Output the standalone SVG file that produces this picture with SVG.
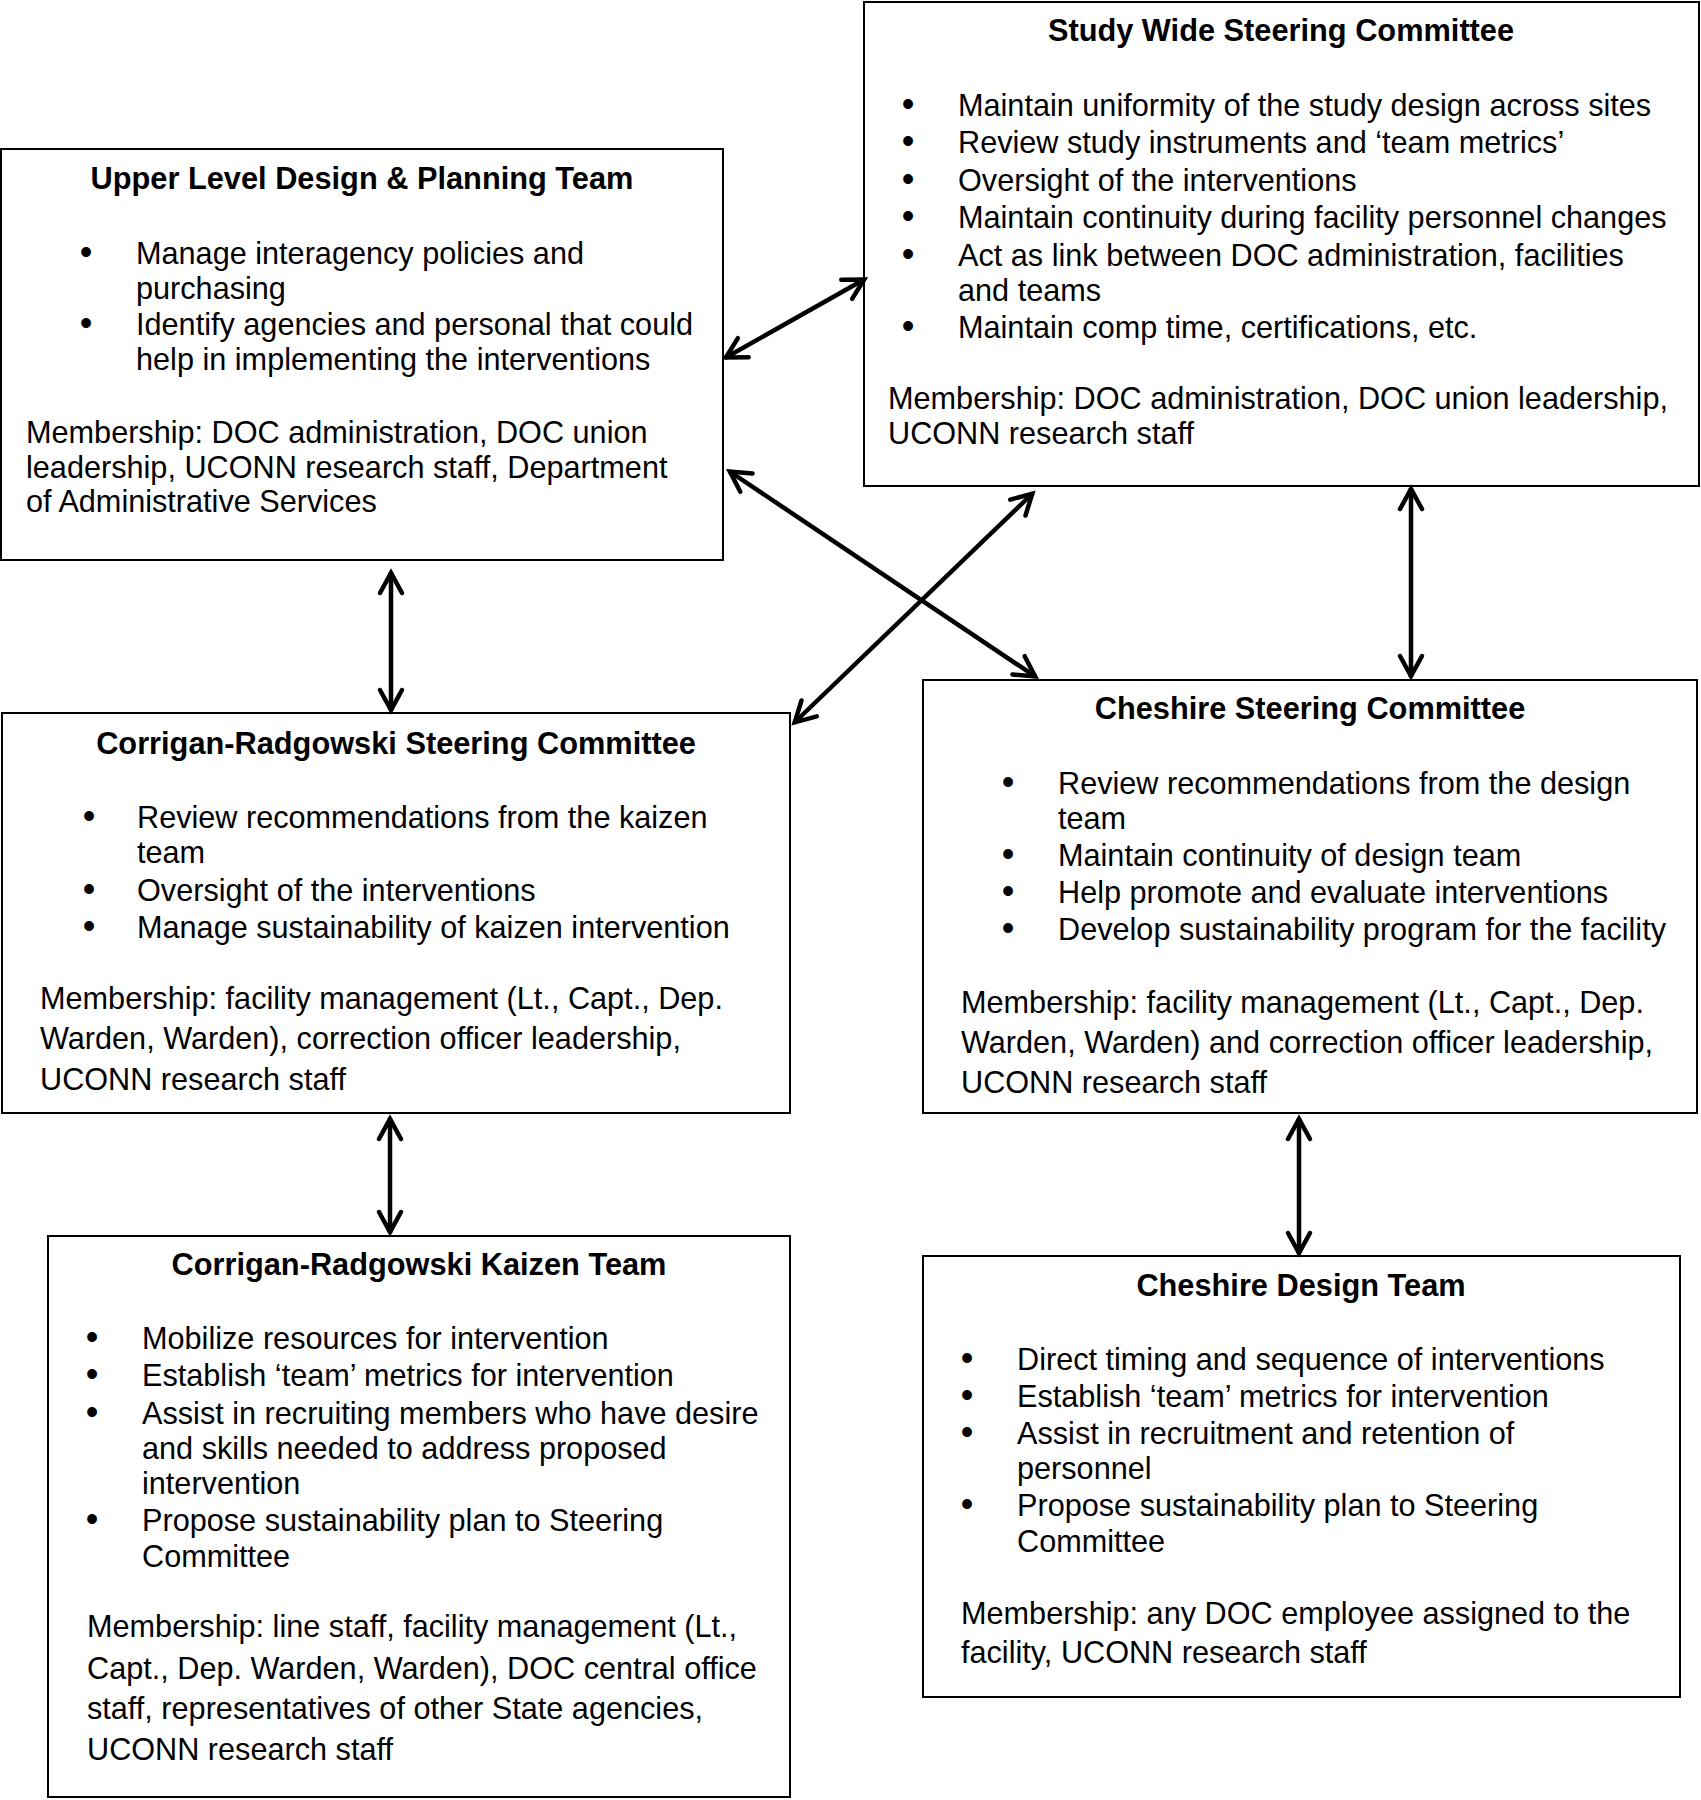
<svg xmlns="http://www.w3.org/2000/svg" width="1701" height="1800" viewBox="0 0 1701 1800">
<style>
.box{fill:#fff;stroke:#000;stroke-width:2}
text{font-family:"Liberation Sans",Arial,sans-serif;font-size:30.65px;fill:#000}
.t{font-weight:bold;text-anchor:middle;font-size:30.75px}
.b{text-anchor:middle;font-size:36px}
.c{fill:none;stroke:#000;stroke-width:4.5}
</style>
<defs>
<marker id="ah" markerUnits="userSpaceOnUse" viewBox="-30 -20 40 40" markerWidth="40" markerHeight="40" refX="0" refY="0" orient="auto-start-reverse" overflow="visible">
<path d="M-21,-11 L-1,0 L-21,11" fill="none" stroke="#000" stroke-width="4.5" stroke-linecap="round" stroke-linejoin="miter"/>
</marker>
</defs>
<rect width="1701" height="1800" fill="#fff"/>

<g id="upper-level">
<rect class="box" x="1" y="149" width="722" height="411"/>
<text class="t" x="362" y="189">Upper Level Design &amp; Planning Team</text>
<text class="b" x="86" y="264">•</text><text x="136" y="264">Manage interagency policies and</text>
<text x="136" y="299">purchasing</text>
<text class="b" x="86" y="335">•</text><text x="136" y="335">Identify agencies and personal that could</text>
<text x="136" y="370">help in implementing the interventions</text>
<text x="26" y="443">Membership: DOC administration, DOC union</text>
<text x="26" y="478">leadership, UCONN research staff, Department</text>
<text x="26" y="512">of Administrative Services</text>
</g>

<g id="study-wide">
<rect class="box" x="864" y="2" width="835" height="484"/>
<text class="t" x="1281" y="41">Study Wide Steering Committee</text>
<text class="b" x="908" y="116">•</text><text x="958" y="116">Maintain uniformity of the study design across sites</text>
<text class="b" x="908" y="153">•</text><text x="958" y="153">Review study instruments and ‘team metrics’</text>
<text class="b" x="908" y="191">•</text><text x="958" y="191">Oversight of the interventions</text>
<text class="b" x="908" y="228">•</text><text x="958" y="228">Maintain continuity during facility personnel changes</text>
<text class="b" x="908" y="266">•</text><text x="958" y="266">Act as link between DOC administration, facilities</text>
<text x="958" y="301">and teams</text>
<text class="b" x="908" y="338">•</text><text x="958" y="338">Maintain comp time, certifications, etc.</text>
<text x="888" y="409">Membership: DOC administration, DOC union leadership,</text>
<text x="888" y="444">UCONN research staff</text>
</g>

<g id="cr-steering">
<rect class="box" x="2" y="713" width="788" height="400"/>
<text class="t" x="396" y="754">Corrigan-Radgowski Steering Committee</text>
<text class="b" x="89" y="828">•</text><text x="137" y="828">Review recommendations from the kaizen</text>
<text x="137" y="863">team</text>
<text class="b" x="89" y="901">•</text><text x="137" y="901">Oversight of the interventions</text>
<text class="b" x="89" y="938">•</text><text x="137" y="938">Manage sustainability of kaizen intervention</text>
<text x="40" y="1009">Membership: facility management (Lt., Capt., Dep.</text>
<text x="40" y="1049">Warden, Warden), correction officer leadership,</text>
<text x="40" y="1090">UCONN research staff</text>
</g>

<g id="cheshire-steering">
<rect class="box" x="923" y="680" width="774" height="433"/>
<text class="t" x="1310" y="719">Cheshire Steering Committee</text>
<text class="b" x="1008" y="794">•</text><text x="1058" y="794">Review recommendations from the design</text>
<text x="1058" y="829">team</text>
<text class="b" x="1008" y="866">•</text><text x="1058" y="866">Maintain continuity of design team</text>
<text class="b" x="1008" y="903">•</text><text x="1058" y="903">Help promote and evaluate interventions</text>
<text class="b" x="1008" y="940">•</text><text x="1058" y="940">Develop sustainability program for the facility</text>
<text x="961" y="1013">Membership: facility management (Lt., Capt., Dep.</text>
<text x="961" y="1053">Warden, Warden) and correction officer leadership,</text>
<text x="961" y="1093">UCONN research staff</text>
</g>

<g id="cr-kaizen">
<rect class="box" x="48" y="1236" width="742" height="561"/>
<text class="t" x="419" y="1275">Corrigan-Radgowski Kaizen Team</text>
<text class="b" x="92" y="1349">•</text><text x="142" y="1349">Mobilize resources for intervention</text>
<text class="b" x="92" y="1386">•</text><text x="142" y="1386">Establish ‘team’ metrics for intervention</text>
<text class="b" x="92" y="1424">•</text><text x="142" y="1424">Assist in recruiting members who have desire</text>
<text x="142" y="1459">and skills needed to address proposed</text>
<text x="142" y="1494">intervention</text>
<text class="b" x="92" y="1531">•</text><text x="142" y="1531">Propose sustainability plan to Steering</text>
<text x="142" y="1567">Committee</text>
<text x="87" y="1637">Membership: line staff, facility management (Lt.,</text>
<text x="87" y="1679">Capt., Dep. Warden, Warden), DOC central office</text>
<text x="87" y="1719">staff, representatives of other State agencies,</text>
<text x="87" y="1760">UCONN research staff</text>
</g>

<g id="cheshire-design">
<rect class="box" x="923" y="1256" width="757" height="441"/>
<text class="t" x="1301" y="1296">Cheshire Design Team</text>
<text class="b" x="967" y="1370">•</text><text x="1017" y="1370">Direct timing and sequence of interventions</text>
<text class="b" x="967" y="1407">•</text><text x="1017" y="1407">Establish ‘team’ metrics for intervention</text>
<text class="b" x="967" y="1444">•</text><text x="1017" y="1444">Assist in recruitment and retention of</text>
<text x="1017" y="1479">personnel</text>
<text class="b" x="967" y="1516">•</text><text x="1017" y="1516">Propose sustainability plan to Steering</text>
<text x="1017" y="1552">Committee</text>
<text x="961" y="1624">Membership: any DOC employee assigned to the</text>
<text x="961" y="1663">facility, UCONN research staff</text>
</g>

<g id="connectors">
<line class="c" x1="725" y1="358" x2="865" y2="279" marker-start="url(#ah)" marker-end="url(#ah)"/>
<line class="c" x1="729" y1="471" x2="1036" y2="677" marker-start="url(#ah)" marker-end="url(#ah)"/>
<line class="c" x1="794" y1="723" x2="1033" y2="493" marker-start="url(#ah)" marker-end="url(#ah)"/>
<line class="c" x1="391" y1="572" x2="391" y2="711" marker-start="url(#ah)" marker-end="url(#ah)"/>
<line class="c" x1="1411" y1="488" x2="1411" y2="677" marker-start="url(#ah)" marker-end="url(#ah)"/>
<line class="c" x1="390" y1="1118" x2="390" y2="1233" marker-start="url(#ah)" marker-end="url(#ah)"/>
<line class="c" x1="1299" y1="1118" x2="1299" y2="1254" marker-start="url(#ah)" marker-end="url(#ah)"/>
</g>
</svg>
